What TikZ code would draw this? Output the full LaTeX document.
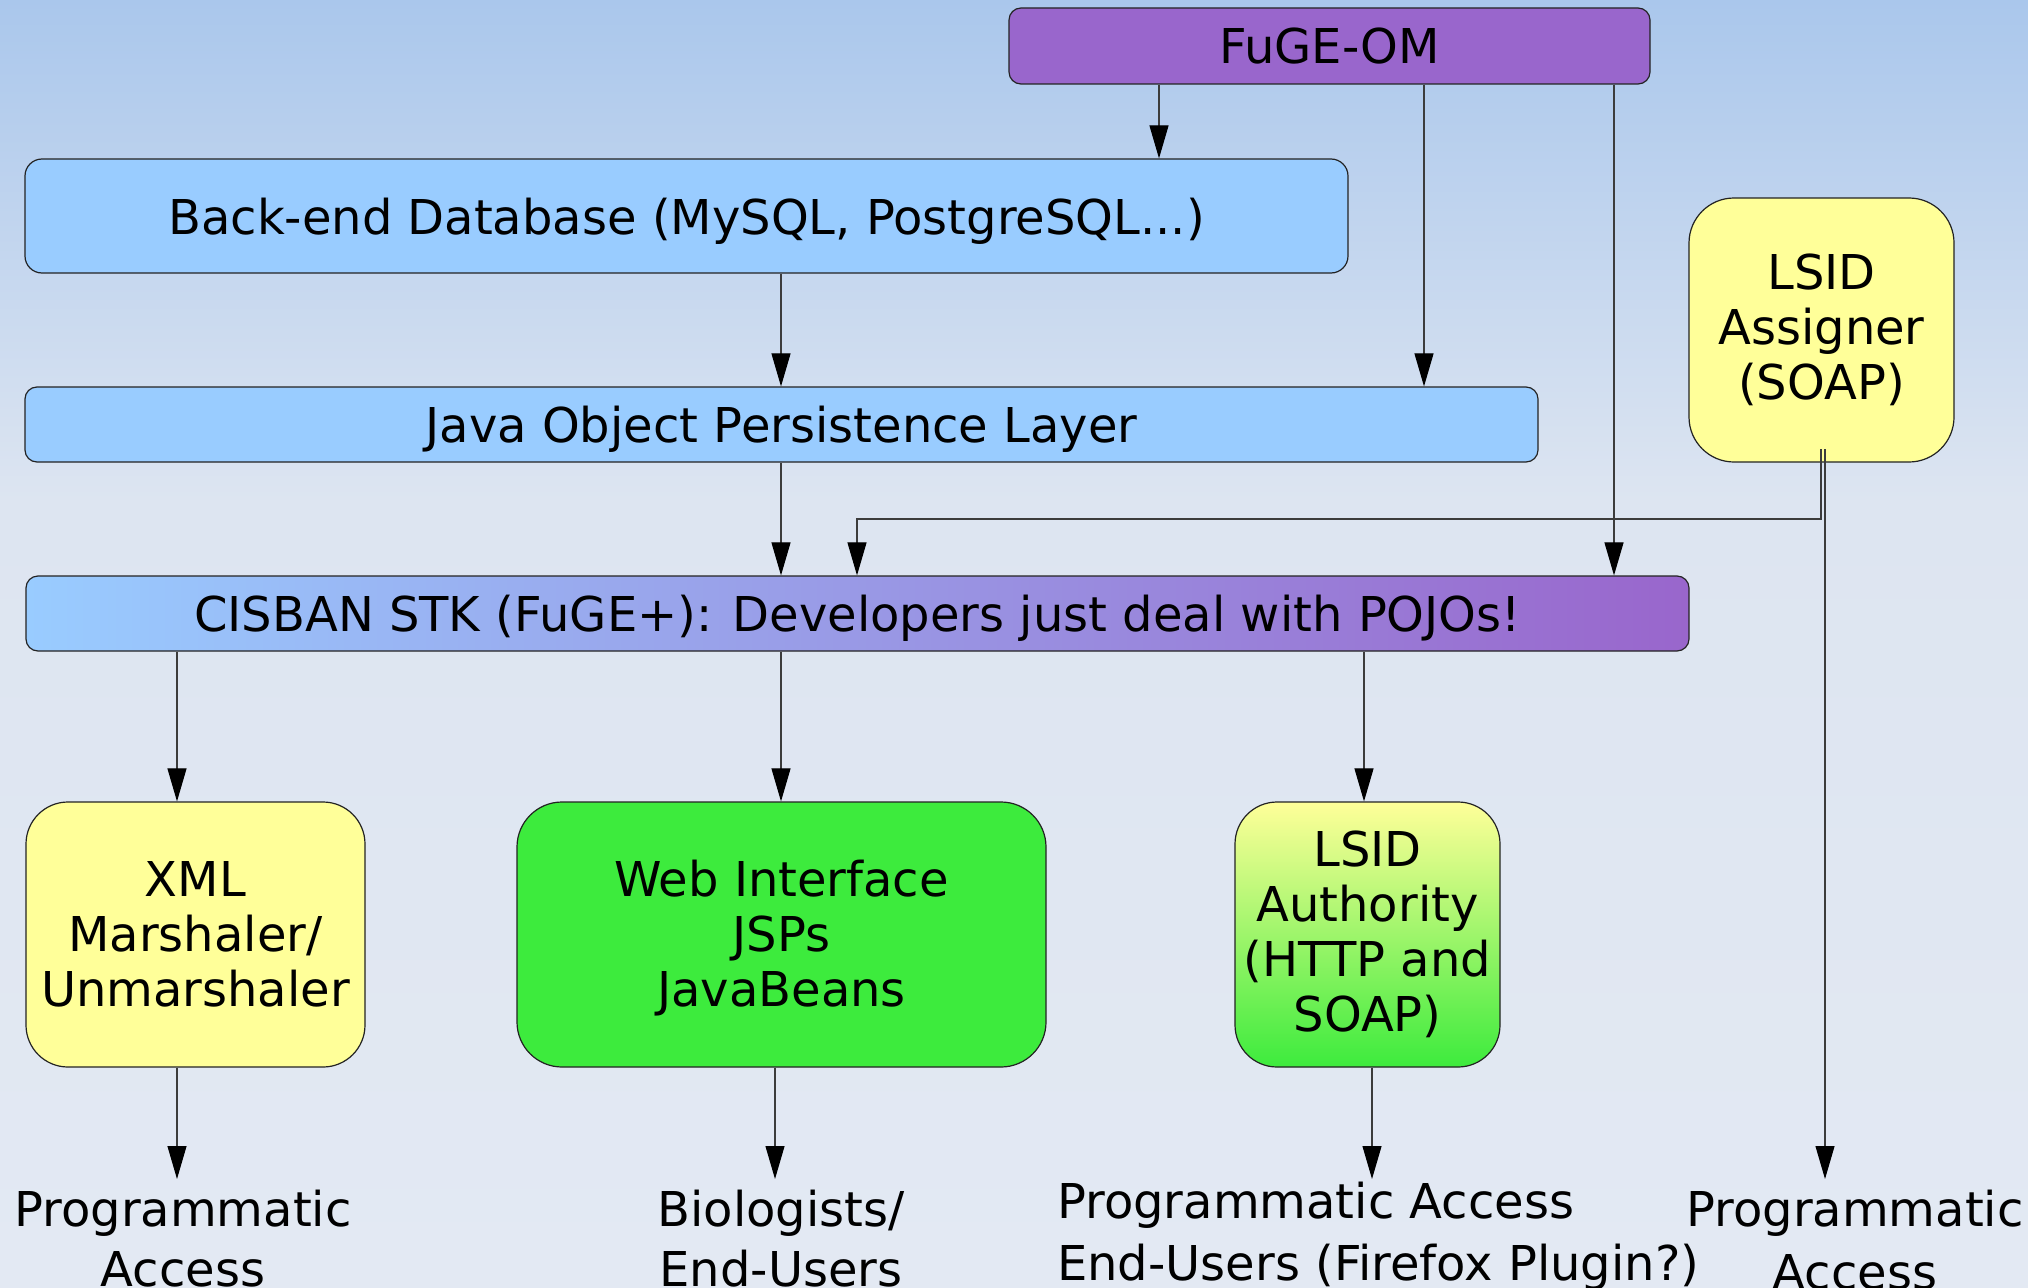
\documentclass[tikz,border=0pt]{standalone}
\usepackage{fontspec}
\setmainfont{DejaVu Sans}
\usetikzlibrary{arrows.meta}
\definecolor{bgA}{RGB}{170,199,236}
\definecolor{bgB}{RGB}{221,229,241}
\definecolor{bgC}{RGB}{227,233,243}
\definecolor{fugepurple}{RGB}{153,102,204}
\definecolor{dbblue}{RGB}{153,204,255}
\definecolor{paleyellow}{RGB}{255,255,153}
\definecolor{webgreen}{RGB}{61,235,61}
\definecolor{edgecol}{RGB}{35,35,35}
\definecolor{wirecol}{RGB}{60,60,60}
\begin{document}
\begin{tikzpicture}[x=1pt,y=-1pt,
  panel/.style={draw=edgecol, line width=1.2pt, inner sep=0pt, align=center,
    font=\fontsize{48}{55}\selectfont},
  oneline/.style={text height=38pt, text depth=2pt},
  lbl/.style={inner sep=0pt, font=\fontsize{48}{60}\selectfont},
  wirearrow/.style={draw=wirecol, line width=1.1pt,
    -{Triangle[length=33pt,width=19pt,color=black]}}]
\useasboundingbox (0,0) rectangle (2028,1287);
\shade[top color=bgA,bottom color=bgB] (0,0) rectangle (2028,500);
\shade[top color=bgB,bottom color=bgC] (0,499.5) rectangle (2028,1287);

% boxes
\node[panel, oneline, fill=fugepurple, rounded corners=12pt, minimum width=641pt, minimum height=76pt] (fuge) at (1329.5,46) {FuGE-OM};
\node[panel, oneline, fill=dbblue, rounded corners=17pt, minimum width=1323pt, minimum height=114pt] (backend) at (686.5,216) {Back-end Database (MySQL, PostgreSQL...)};
\node[panel, oneline, fill=dbblue, rounded corners=12pt, minimum width=1513pt, minimum height=75pt] (java) at (781.5,424.5) {Java Object Persistence Layer};
\node[panel, fill=paleyellow, rounded corners=45pt, minimum width=265pt, minimum height=264pt] (assigner) at (1821.5,330) {LSID\\Assigner\\(SOAP)};
\node[panel, oneline, left color=dbblue, right color=fugepurple, rounded corners=12pt, minimum width=1663pt, minimum height=75pt] (cisban) at (857.5,613.5) {CISBAN STK (FuGE+): Developers just deal with POJOs!};
\node[panel, fill=paleyellow, rounded corners=42pt, minimum width=339pt, minimum height=265pt] (xml) at (195.5,934.5) {XML\\Marshaler/\\Unmarshaler};
\node[panel, fill=webgreen, rounded corners=45pt, minimum width=529pt, minimum height=265pt] (web) at (781.5,934.5) {\rule{0pt}{44pt}Web Interface\\JSPs\\JavaBeans};
\node[panel, top color=paleyellow, bottom color=webgreen, rounded corners=42pt, minimum width=265pt, minimum height=265pt] (auth) at (1367.5,934.5) {LSID\\Authority\\(HTTP and\\SOAP)};

% bottom labels
\node[lbl, align=center] (pa1) at (183,1239) {Programmatic\\Access};
\node[lbl, align=center] (bio) at (781,1239) {Biologists/\\End-Users};
\node[lbl, align=left, anchor=west, font=\fontsize{48}{62}\selectfont] (pa2) at (1057,1236) {Programmatic Access\\End-Users (Firefox Plugin?)};
\node[lbl, align=center, font=\fontsize{48}{63}\selectfont] (pa3) at (1855,1240) {Programmatic\\Access};

% column coordinates
\coordinate (xA) at (1159,0);
\coordinate (xB) at (1424,0);
\coordinate (xC) at (1614,0);
\coordinate (xD) at (781,0);
\coordinate (xH) at (177,0);
\coordinate (xI) at (1364,0);
\coordinate (xJ) at (775,0);
\coordinate (xK) at (1372,0);
\coordinate (as1) at (1821,449);
\coordinate (as2) at (1825,449);
\coordinate (elbow) at (857,519);
\coordinate (tipL) at (177,1179);
\coordinate (tipW) at (775,1179);
\coordinate (tipA) at (1372,1179);
\coordinate (tipR) at (1825,1179);

% connectors
\draw[wirearrow] (fuge.south -| xA) -- (backend.north -| xA);
\draw[wirearrow] (fuge.south -| xB) -- (java.north -| xB);
\draw[wirearrow] (fuge.south -| xC) -- (cisban.north -| xC);
\draw[wirearrow] (backend.south -| xD) -- (java.north -| xD);
\draw[wirearrow] (java.south -| xD) -- (cisban.north -| xD);
\draw[wirearrow] (as1) |- (elbow) -- (cisban.north -| elbow);
\draw[wirearrow] (as2) -- (tipR);
\draw[wirearrow] (cisban.south -| xH) -- (xml.north -| xH);
\draw[wirearrow] (cisban.south -| xD) -- (web.north -| xD);
\draw[wirearrow] (cisban.south -| xI) -- (auth.north -| xI);
\draw[wirearrow] (xml.south -| xH) -- (tipL);
\draw[wirearrow] (web.south -| xJ) -- (tipW);
\draw[wirearrow] (auth.south -| xK) -- (tipA);
\end{tikzpicture}
\end{document}
